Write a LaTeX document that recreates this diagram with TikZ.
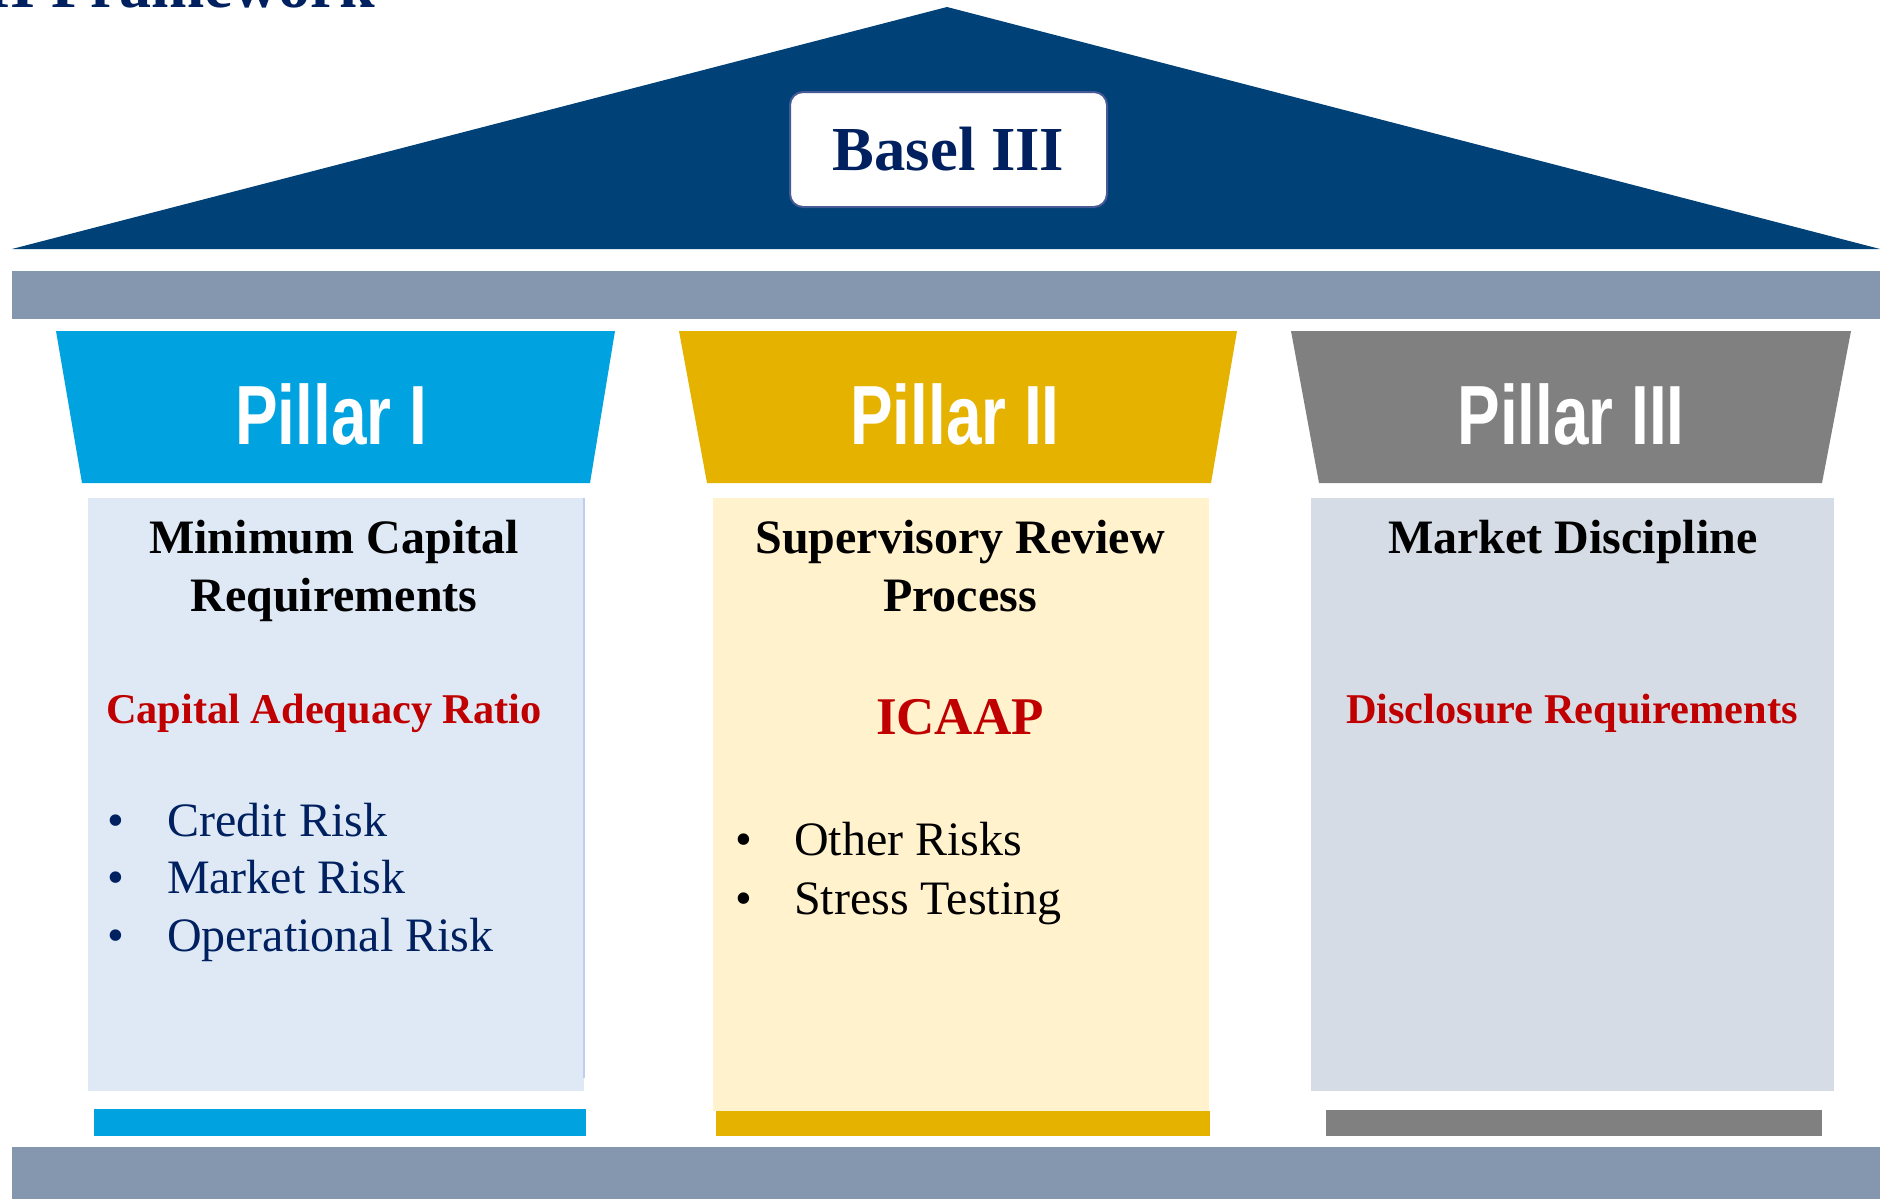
\documentclass[tikz,border=0pt]{standalone}
\usepackage{fontspec}
\usepackage{graphicx}
\setmainfont{Liberation Serif}
\newfontfamily\pillarfont{Liberation Sans}
\definecolor{roofblue}{RGB}{0,65,120}
\definecolor{navytext}{RGB}{0,32,96}
\definecolor{boxline}{RGB}{70,90,150}
\definecolor{beamgray}{RGB}{133,151,175}
\definecolor{pcyan}{RGB}{0,163,224}
\definecolor{pgold}{RGB}{230,178,0}
\definecolor{pgray}{RGB}{128,128,128}
\definecolor{bodyblue}{RGB}{222,233,245}
\definecolor{bodycream}{RGB}{255,242,204}
\definecolor{bodygray}{RGB}{214,220,229}
\definecolor{redtext}{RGB}{192,0,0}
\definecolor{edgeline}{RGB}{195,205,235}
\begin{document}
\begin{tikzpicture}[x=0.5pt,y=-0.5pt,
  txt/.style={inner sep=0pt, outer sep=0pt},
  titletxt/.style={txt, text=navytext, font=\fontsize{32}{38}\selectfont\bfseries},
  baselbox/.style={draw=boxline, line width=1pt, fill=white, rounded corners=6.5pt,
     minimum width=158.5pt, minimum height=57.5pt, inner sep=0pt, text=navytext,
     font=\fontsize{31.3}{36}\selectfont\bfseries},
  pillarlbl/.style={txt, anchor=base, text=white, font={\pillarfont\fontsize{42}{48}\selectfont\bfseries}},
  headtxt/.style={txt, anchor=base, text=black, font=\fontsize{24}{28}\selectfont\bfseries},
  redtxt/.style={txt, anchor=base, text=redtext, font=\fontsize{21.2}{25}\selectfont\bfseries},
  icaaptxt/.style={txt, anchor=base, text=redtext, font=\fontsize{26.5}{30}\selectfont\bfseries},
  bulletnavy/.style={txt, anchor=base west, text=navytext, font=\fontsize{24}{28}\selectfont},
  bulletblack/.style={txt, anchor=base west, text=black, font=\fontsize{24}{28}\selectfont}
]
\useasboundingbox (0,0) rectangle (1880,1199);
\fill[white] (0,0) rectangle (1880,1199);

% partially visible title
\begin{scope}
  \clip (0,0) rectangle (1880,1199);
  \node[titletxt, anchor=base east] (title) at (375,7) {Basel III Framework};
\end{scope}

% roof
\fill[roofblue] (12,249) -- (947,7) -- (1880,249) -- cycle;
\node[baselbox] (basel) at (948.5,149.5) {Basel III};

% beams
\fill[beamgray] (12,271) rectangle (1880,319);
\fill[beamgray] (12,1147) rectangle (1880,1199);

% pillar headers
\fill[pcyan] (56,331) -- (615,331) -- (590,483) -- (82,483) -- cycle;
\fill[pgold] (679,331) -- (1237,331) -- (1211,483) -- (707,483) -- cycle;
\fill[pgray] (1291,331) -- (1851,331) -- (1822,483) -- (1319,483) -- cycle;
\node[pillarlbl] (p1) at (331,444) {\scalebox{0.76}[1]{Pillar I}};
\node[pillarlbl] (p2) at (955,444) {\scalebox{0.76}[1]{Pillar II}};
\node[pillarlbl] (p3) at (1571,444) {\scalebox{0.76}[1]{Pillar III}};

% pillar bodies
\fill[bodyblue] (88,498) rectangle (584,1091);
\draw[edgeline, line width=0.75pt] (584,498) -- (584,1078);
\fill[bodycream] (713,498) rectangle (1209,1111);
\fill[bodygray] (1311,498) rectangle (1834,1091);

% pillar bases
\fill[pcyan] (94,1109) rectangle (586,1136);
\fill[pgold] (716,1111) rectangle (1210,1136);
\fill[pgray] (1326,1110) rectangle (1822,1136);

% Pillar I texts
\node[headtxt] (h1a) at (334,553) {Minimum Capital};
\node[headtxt] (h1b) at (334,611) {Requirements};
\node[redtxt] (r1) at (324,723) {Capital Adequacy Ratio};
\node[bulletnavy] (b1a) at (107,836) {•};
\node[bulletnavy] (t1a) at (167,836) {Credit Risk};
\node[bulletnavy] (b1b) at (107,893) {•};
\node[bulletnavy] (t1b) at (167,893) {Market Risk};
\node[bulletnavy] (b1c) at (107,951) {•};
\node[bulletnavy] (t1c) at (167,951) {Operational Risk};

% Pillar II texts
\node[headtxt] (h2a) at (960,553) {Supervisory Review};
\node[headtxt] (h2b) at (960,611) {Process};
\node[icaaptxt] (r2) at (960,734) {ICAAP};
\node[bulletblack] (b2a) at (735,855) {•};
\node[bulletblack] (t2a) at (794,855) {Other Risks};
\node[bulletblack] (b2b) at (735,914) {•};
\node[bulletblack] (t2b) at (794,914) {Stress Testing};

% Pillar III texts
\node[headtxt] (h3a) at (1573,553) {Market Discipline};
\node[redtxt] (r3) at (1572,723) {Disclosure Requirements};
\end{tikzpicture}
\end{document}
